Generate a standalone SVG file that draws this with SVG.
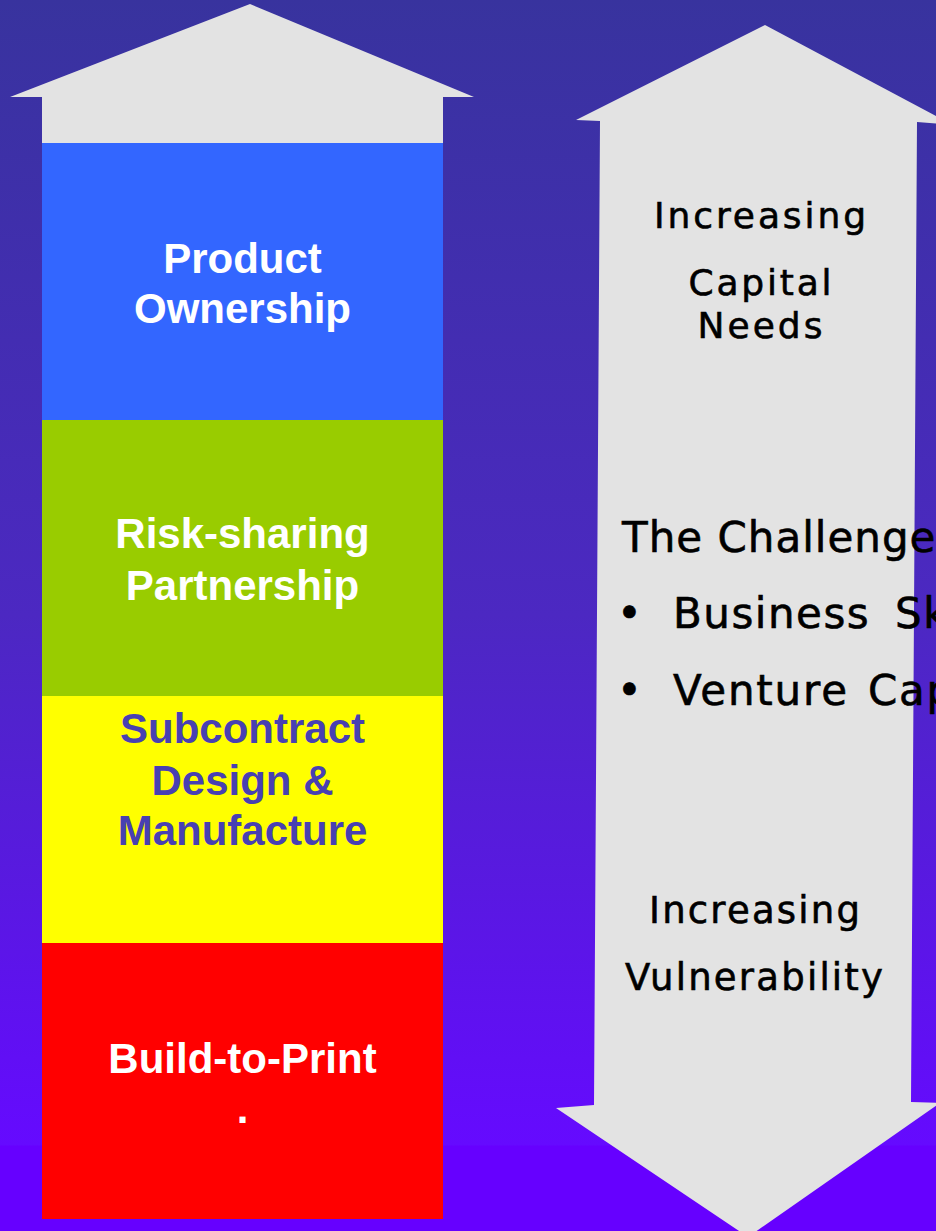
<svg xmlns="http://www.w3.org/2000/svg" width="936" height="1231" viewBox="0 0 936 1231">
  <defs>
    <linearGradient id="bg" x1="0" y1="0" x2="0" y2="1">
      <stop offset="0" stop-color="#38339e"/>
      <stop offset="0.5" stop-color="#4c28c2"/>
      <stop offset="0.93" stop-color="#650aff"/>
      <stop offset="0.931" stop-color="#6600ff"/>
      <stop offset="1" stop-color="#6600ff"/>
    </linearGradient>
    <style>
      .arrow { fill: #e3e3e3; }
      .lbl { font-family: "Liberation Sans", Arial, sans-serif; font-weight: bold; font-size: 42px; text-anchor: middle; }
      .white { fill: #ffffff; }
      .blue { fill: #4840b2; }
      .side { font-family: "DejaVu Sans", Verdana, sans-serif; fill: #000000; stroke: #000000; stroke-width: 0.6; text-anchor: middle; }
      .top { font-size: 36px; }
      .bot { font-size: 37px; }
      .chal { font-family: "DejaVu Sans", Verdana, sans-serif; font-size: 42px; fill: #000000; stroke: #000000; stroke-width: 0.6; }
    </style>
  </defs>
  <rect x="0" y="0" width="936" height="1231" fill="url(#bg)"/>

  <g id="left-arrow">
    <polygon class="arrow" points="250,4 474,97 443,97 443,1219 42,1219 42,97 10,97"/>
  </g>
  <g id="right-arrow">
    <polygon class="arrow" points="765,25 953,125 917,122 911,1102 940,1103 748,1237 556,1108 594,1105 600,121 576,120"/>
  </g>

  <g id="product-ownership">
    <rect x="42" y="143" width="401" height="277" fill="#3366ff"/>
    <text class="lbl white" x="242.5" y="273">Product</text>
    <text class="lbl white" x="242.5" y="323">Ownership</text>
  </g>
  <g id="risk-sharing">
    <rect x="42" y="420" width="401" height="276" fill="#99cc00"/>
    <text class="lbl white" x="242.5" y="548">Risk-sharing</text>
    <text class="lbl white" x="242.5" y="600">Partnership</text>
  </g>
  <g id="subcontract">
    <rect x="42" y="696" width="401" height="247" fill="#ffff00"/>
    <text class="lbl blue" x="242.5" y="743">Subcontract</text>
    <text class="lbl blue" x="242.5" y="795">Design &amp;</text>
    <text class="lbl blue" x="242.5" y="845">Manufacture</text>
  </g>
  <g id="build-to-print">
    <rect x="42" y="943" width="401" height="276" fill="#ff0000"/>
    <text class="lbl white" x="242.5" y="1073">Build-to-Print</text>
    <text class="lbl white" x="242.5" y="1123">.</text>
  </g>

  <g id="capital-label">
    <text class="side top" x="760" y="228" textLength="212" lengthAdjust="spacing">Increasing</text>
    <text class="side top" x="760" y="295" textLength="143" lengthAdjust="spacing">Capital</text>
    <text class="side top" x="760" y="338" textLength="125" lengthAdjust="spacing">Needs</text>
  </g>
  <g id="vulnerability-label">
    <text class="side bot" x="754.5" y="923" textLength="211" lengthAdjust="spacing">Increasing</text>
    <text class="side bot" x="754" y="990" textLength="258" lengthAdjust="spacing">Vulnerability</text>
  </g>
  <g id="challenges">
    <text class="chal" x="622" y="552" letter-spacing="1">The Challenge</text>
    <text class="chal" x="617" y="628">•</text>
    <text class="chal" x="673" y="628" letter-spacing="1.5" word-spacing="10">Business Sk</text>
    <text class="chal" x="617" y="705">•</text>
    <text class="chal" x="673" y="705" letter-spacing="1.8" word-spacing="4">Venture Cap</text>
  </g>
  <g id="connectors"></g>
</svg>
